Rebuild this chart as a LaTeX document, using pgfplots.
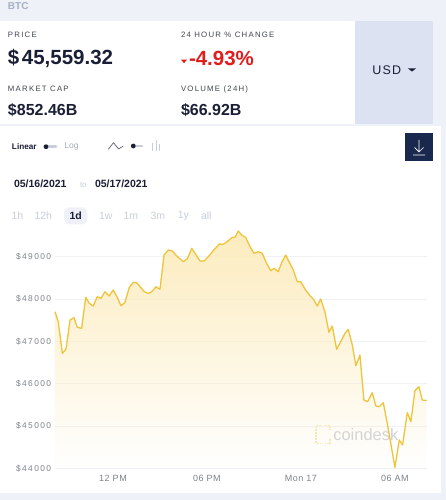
\documentclass[border=0pt]{standalone}
\usepackage{pgfplots}
\pgfplotsset{compat=1.18}
\usepackage{pgfplotstable}
\usetikzlibrary{fadings}
\usepackage{fontspec}
\setmainfont{Liberation Sans}
\newfontfamily\lsp[LetterSpace=16]{Liberation Sans}
\newfontfamily\tsp[LetterSpace=16]{Liberation Sans}
\newfontfamily\xsp[LetterSpace=6]{Liberation Sans}
\newfontfamily\usp[LetterSpace=10]{Liberation Sans}
\newcommand\fs[1]{\fontsize{#1}{#1}\selectfont}

\definecolor{bgc}{RGB}{238,241,247}
\definecolor{lav}{RGB}{220,226,242}
\definecolor{navy}{RGB}{26,31,54}
\definecolor{btnc}{RGB}{27,40,77}
\definecolor{redc}{RGB}{224,30,30}
\definecolor{labc}{RGB}{65,70,80}
\definecolor{lightc}{RGB}{200,207,219}
\definecolor{logc}{RGB}{165,170,180}
\definecolor{tickc}{RGB}{125,130,140}
\definecolor{gridc}{RGB}{240,241,245}
\definecolor{linec}{RGB}{240,196,58}
\definecolor{fillc}{RGB}{252,236,190}
\definecolor{btcc}{RGB}{165,176,196}
\definecolor{wmc}{RGB}{205,209,219}
\definecolor{wmy}{RGB}{250,230,178}

\pgfplotstableread{
h price
8.30 47700
8.51 47464
8.77 46717
9.00 46812
9.26 47504
9.51 47559
9.72 47332
10.00 47308
10.26 48040
10.49 47899
10.74 47835
11.00 48055
11.24 48017
11.49 48173
11.75 48071
12.02 48213
12.28 48040
12.51 47842
12.77 47922
13.04 48277
13.30 48395
13.51 48386
13.73 48291
14.00 48173
14.26 48134
14.47 48173
14.75 48291
15.00 48229
15.26 49040
15.53 49158
15.79 49135
16.07 49017
16.28 48950
16.49 48882
16.74 48946
17.03 49198
17.28 49057
17.56 48898
17.81 48898
18.09 49000
18.40 49142
18.79 49300
19.04 49293
19.36 49378
19.62 49458
19.79 49458
20.00 49607
20.22 49513
20.47 49458
20.75 49236
21.00 49080
21.28 49118
21.53 49080
21.81 48844
22.07 48669
22.28 48726
22.55 48646
22.77 48858
23.03 49040
23.24 48882
23.51 48686
23.77 48409
23.98 48409
24.30 48213
24.58 48078
24.79 48000
25.04 47835
25.26 48000
25.53 47700
25.79 47214
26.00 47362
26.28 46812
26.54 46991
26.81 47190
27.02 47285
27.28 46913
27.51 46424
27.77 46677
28.02 45614
28.26 45574
28.55 45786
28.79 45472
29.00 45456
29.26 45550
29.51 45063
29.73 44605
30.00 44020
30.28 44669
30.49 44551
30.79 45314
31.02 45101
31.28 45834
31.53 45928
31.75 45614
32.03 45600
}\btc

\begin{document}
\begin{tikzpicture}
\useasboundingbox (0pt,0pt) rectangle (446pt,500pt);
% backgrounds
\fill[bgc] (0pt,0pt) rectangle (446pt,500pt);
\fill[white] (0pt,375.5pt) rectangle (355pt,479pt);
\fill[lav] (355pt,375.5pt) rectangle (433pt,479pt);
\fill[white] (0pt,7pt) rectangle (441pt,374pt);

\begin{scope}[x=1pt,y=1pt,every node/.style={inner sep=0pt, outer sep=0pt}]
% header
\node[anchor=west,text=btcc] at (8,493.5) {\fs{10}\bfseries BTC};
\node[anchor=west,text=labc] at (8,465.5) {\lsp\fs{7.8}PRICE};
\node[anchor=west,text=navy] at (8,441.3) {\fs{20.5}\bfseries \$\kern2.5pt45,559.32};
\node[anchor=west,text=labc] at (181,465.5) {\lsp\fs{7.8}24 HOUR \% CHANGE};
\fill[redc] (181,440.3) -- (187,440.3) -- (184,436.8) -- cycle;
\node[anchor=west,text=redc] at (189,441.3) {\fs{20.5}\bfseries -4.93\%};
\node[anchor=west,text=labc] at (8,410.7) {\lsp\fs{7.8}MARKET CAP};
\node[anchor=west,text=labc] at (181,410.7) {\lsp\fs{7.8}VOLUME (24H)};
\node[anchor=west,text=navy] at (8,390) {\fs{16}\bfseries \$852.46B};
\node[anchor=west,text=navy] at (181,390) {\fs{16}\bfseries \$66.92B};
\node[anchor=west,text=navy] at (372.3,430) {\usp\fs{12.5}USD};
\fill[navy] (408,431.6) -- (416,431.6) -- (412,428.4) -- cycle;

% controls
\node[anchor=west,text=navy] at (12,353.3) {\fs{8.2}\bfseries Linear};
\draw[lightc, line width=2.5pt, line cap=round] (47,353.3) -- (56,353.3);
\fill[navy] (46,353.3) circle (2.4);
\node[anchor=west,text=logc] at (64.3,353.3) {\fs{8.5}Log};
\draw[navy!80, line width=0.6pt, line join=round] (108.3,350.7) -- (113.5,357.3) -- (118.5,351) -- (123.3,354);
\draw[lightc, line width=2.5pt, line cap=round] (134,354) -- (142,354);
\fill[navy] (133.3,354) circle (2.4);
\draw[lightc, line width=1pt] (152.5,349)--(152.5,357) (156,349)--(156,360) (159.5,349)--(159.5,356);
\fill[btnc] (405,339) rectangle (433,367);
\draw[white, line width=0.7pt] (419,360)--(419,348) (414.5,352.5)--(419,348)--(423.5,352.5) (413,345)--(425,345);

% dates
\node[anchor=west,text=navy] at (14,315.7) {\fs{10.5}\bfseries 05/16/2021};
\node[anchor=west,text=lightc] at (80,315.3) {\fs{8}to};
\node[anchor=west,text=navy] at (95,315.7) {\fs{10.5}\bfseries 05/17/2021};

% range buttons
\fill[bgc, rounded corners=6pt] (64,275.7) rectangle (87.3,292.7);
\node[text=lightc] at (17.5,284) {\fs{10.5}1h};
\node[text=lightc] at (43.3,284) {\fs{10.5}12h};
\node[text=navy] at (75.7,284) {\fs{10.5}\bfseries 1d};
\node[text=lightc] at (105.8,284) {\fs{10.5}1w};
\node[text=lightc] at (130.8,284) {\fs{10.5}1m};
\node[text=lightc] at (157.8,284) {\fs{10.5}3m};
\node[text=lightc] at (183.3,284) {\fs{10.5}1y};
\node[text=lightc] at (206.3,284) {\fs{10.5}all};

% watermark
\draw[wmy, line width=1.3pt, dash pattern=on 2pt off 1pt] (321,74.5)--(316,74.5)--(316,56.5)--(321,56.5);
\draw[wmy, line width=1.3pt, dash pattern=on 2pt off 1pt] (325,74.5)--(330,74.5)--(330,70) (330,61)--(330,56.5)--(325,56.5);
\node[anchor=west,text=wmc] at (333.3,65.5) {\fs{16.5}coindesk};
\end{scope}

\begin{axis}[
  at={(55pt,31.7pt)}, anchor=south west,
  scale only axis, width=371.7pt, height=241.2pt,
  xmin=8.3, xmax=32.03, ymin=44000, ymax=49700,
  clip=false,
  scaled y ticks=false,
  axis line style={draw=none},
  major tick length=0pt,
  xtick={12,18,24,30},
  xticklabels={12 PM,06 PM,Mon 17,06 AM},
  ytick={44000,45000,46000,47000,48000,49000},
  yticklabels={\$44000,\$45000,\$46000,\$47000,\$48000,\$49000},
  ymajorgrids,
  grid style={draw=gridc, line width=0.7pt},
  xticklabel style={font=\xsp\fs{9}, text=tickc, yshift=-3.5pt},
  yticklabel style={font=\tsp\fs{8.4}, text=tickc, xshift=-0.5pt},
]
\addplot[draw=none, fill=fillc, path fading=south] table[x=h,y=price] {\btc} |- (axis cs:8.3,44000) -- cycle;
\addplot[linec, line width=1.3pt, line join=round, mark=none] table[x=h,y=price] {\btc};
\end{axis}
\end{tikzpicture}
\end{document}
